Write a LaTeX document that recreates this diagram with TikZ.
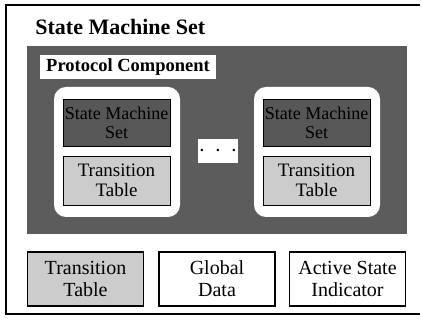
\documentclass[tikz,border=0pt]{standalone}
\usepackage{fontspec}
\setmainfont{Liberation Serif}
\usetikzlibrary{positioning}
\definecolor{dithergray}{gray}{0.36}
\definecolor{smgray}{gray}{0.34}
\definecolor{dotgray}{gray}{0.80}
\tikzset{
	smnode/.style={draw=black, line width=0.4pt, fill=smgray, minimum width=53.5pt, minimum height=23.5pt,
			inner sep=0pt, align=center, font=\fontsize{9}{9.5}\selectfont}
}
\tikzset{
	ttnode/.style={draw=black, line width=0.4pt, fill=dotgray, minimum width=53.5pt, minimum height=24.5pt,
			inner sep=0pt, align=center, font=\fontsize{9.5}{10}\selectfont}
}
\tikzset{
	machinebox/.style={fill=white, rounded corners=6pt, minimum width=63pt, minimum height=65pt, inner sep=0pt}
}
\tikzset{
	setnode/.style={draw=black, line width=0.6pt, minimum width=58pt, minimum height=27pt,
			inner sep=0pt, align=center, font=\fontsize{10}{11}\selectfont}
}

\begin{document}
\begin{tikzpicture}[x=0.5pt, y=0.5pt]

			\useasboundingbox (0,0) rectangle (422,320);
			\draw[line width=0.6pt] (420,315) -- (6,315) -- (6,6) -- (420,6);

			\node[anchor=base west, inner sep=0pt, font=\bfseries\fontsize{11}{13}\selectfont] (title) at (35,285) {State Machine Set};

			\begin{scope}
				\node[fill=dithergray, minimum width=190pt, minimum height=94pt, inner sep=0pt] (proto) at (217,180) {};
				\node[fill=white, minimum width=88pt, minimum height=12pt, inner sep=0pt,
					font=\bfseries\fontsize{9.25}{10}\selectfont] (protolabel) at (128,253) {Protocol Component};

				\node[machinebox] (mA) at (117,168) {};
				\node[machinebox] (mB) at (317,168) {};

				\node[smnode] (smA) at (116.5,197.5) {State Machine\\Set};
				\node[ttnode] (ttA) at (116.5,139.5) {Transition\\Table};
				\node[smnode] (smB) at (316.5,197.5) {State Machine\\Set};
				\node[ttnode] (ttB) at (316.5,139.5) {Transition\\Table};

				\node[fill=white, minimum width=20pt, minimum height=12pt, inner sep=0pt,
					font=\bfseries\fontsize{13}{13}\selectfont] (more) at (218,169) {$\cdot\,\cdot\,\cdot$};
			\end{scope}

			\begin{scope}
				\node[setnode, fill=dotgray] (table) at (85.5,41) {Transition\\Table};
				\node[setnode, fill=white] (global) at (217,41) {Global\\Data};
				\node[setnode, fill=white] (active) at (347.5,41) {Active State\\Indicator};
			\end{scope}

		\end{tikzpicture}
\end{document}
